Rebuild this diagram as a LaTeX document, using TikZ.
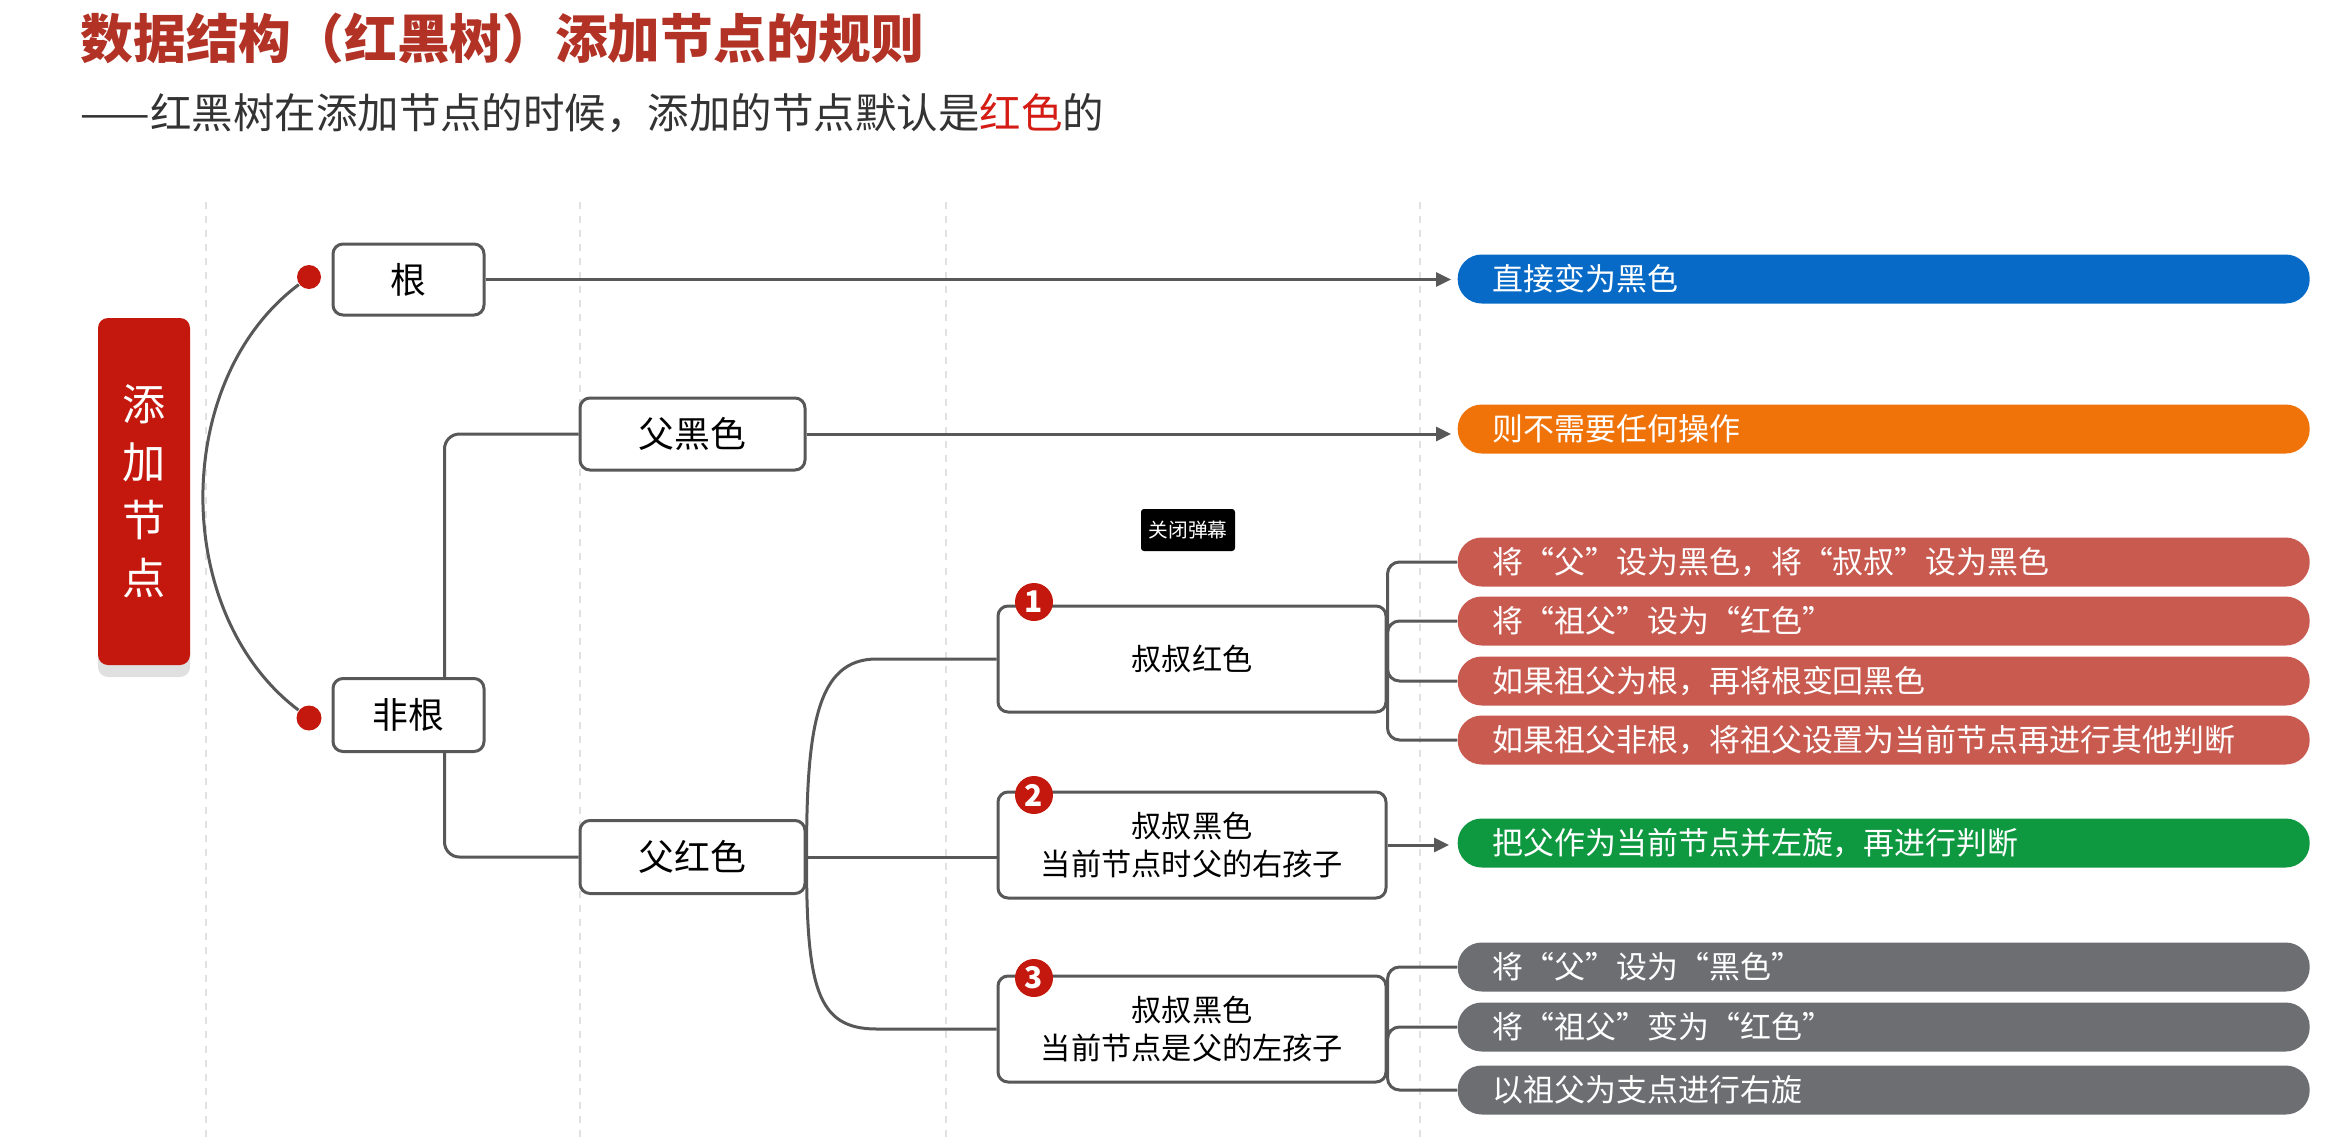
\documentclass[tikz,border=0pt]{standalone}
\usepackage{fontspec}
\setmainfont{Noto Sans CJK SC}
\usetikzlibrary{arrows.meta}

\definecolor{titlered}{RGB}{178,50,38}
\definecolor{subred}{RGB}{212,28,20}
\definecolor{boxred}{RGB}{196,24,14}
\definecolor{pillblue}{RGB}{6,106,198}
\definecolor{pillorange}{RGB}{240,115,10}
\definecolor{pillred}{RGB}{200,90,80}
\definecolor{pillgreen}{RGB}{14,152,64}
\definecolor{pillgray}{RGB}{108,110,114}
\definecolor{linegray}{RGB}{88,88,88}
\definecolor{gridgray}{RGB}{225,225,225}

\begin{document}
\begin{tikzpicture}[x=0.1mm,y=-0.1mm]

  \fill[white] (0,0) rectangle (2333,1139);
  \useasboundingbox (0,0) rectangle (2333,1139);

  % heading
  \node[anchor=west,inner sep=0pt,text=titlered,font=\fontsize{15}{18}\selectfont\bfseries] (title) at (80,38) {数据结构（红黑树）添加节点的规则};
  \node[anchor=west,inner sep=0pt,text=black!80,font=\fontsize{11.8}{14}\selectfont] (sub) at (80,113) {——红黑树在添加节点的时候，添加的节点默认是\textcolor{subred}{红色}的};

  % guide lines
  \foreach \x in {206,580,946,1420}
    \draw[gridgray,dash pattern=on 2pt off 2pt,line width=0.4pt] (\x,202) -- (\x,1139);

  % main topic
  \fill[black!12,rounded corners=1mm] (98,330) rectangle (190,677);
  \node[fill=boxred,rounded corners=1mm,minimum width=9.2mm,minimum height=34.7mm,align=center,text=white,font=\fontsize{12.3}{16.5}\selectfont] (add) at (144,491.5) {添\\加\\节\\点};

  \begin{scope}[every node/.style={draw=linegray,line width=0.3mm,rounded corners=1mm,fill=white,font=\fontsize{10.2}{12}\selectfont}]
    \node[minimum width=15.1mm,minimum height=7.1mm] (root) at (408.5,279.5) {根};
    \node[minimum width=15.1mm,minimum height=7.3mm] (nonroot) at (408.5,715) {非根};
    \node[minimum width=22.5mm,minimum height=7.2mm] (fblack) at (692.5,434) {父黑色};
    \node[minimum width=22.5mm,minimum height=7.3mm] (fred) at (692.5,857) {父红色};
  \end{scope}

  \begin{scope}[every node/.style={draw=linegray,line width=0.3mm,rounded corners=1mm,fill=white,minimum width=38.8mm,minimum height=10.6mm,align=center,font=\fontsize{8.6}{10.6}\selectfont}]
    \node (case1) at (1192,659) {叔叔红色};
    \node (case2) at (1192,845) {叔叔黑色\\当前节点时父的右孩子};
    \node (case3) at (1192,1029) {叔叔黑色\\当前节点是父的左孩子};
  \end{scope}

  \begin{scope}[every node/.style={anchor=west,minimum height=4.9mm,rounded corners=2.4mm,text width=78.2mm,inner xsep=3.5mm,inner ysep=0pt,align=left,text=white,font=\fontsize{8.8}{10}\selectfont}]
    \node[fill=pillblue] (black) at (1457,279) {直接变为黑色};
    \node[fill=pillorange] (noop) at (1457,429) {则不需要任何操作};
    \node[fill=pillred] (r1) at (1457,562) {将“父”设为黑色，将“叔叔”设为黑色};
    \node[fill=pillred] (r2) at (1457,621) {将“祖父”设为“红色”};
    \node[fill=pillred] (r3) at (1457,681) {如果祖父为根，再将根变回黑色};
    \node[fill=pillred] (r4) at (1457,740) {如果祖父非根，将祖父设置为当前节点再进行其他判断};
    \node[fill=pillgreen] (rotl) at (1457,843) {把父作为当前节点并左旋，再进行判断};
    \node[fill=pillgray] (g1) at (1457,967) {将“父”设为“黑色”};
    \node[fill=pillgray] (g2) at (1457,1027) {将“祖父”变为“红色”};
    \node[fill=pillgray] (g3) at (1457,1090) {以祖父为支点进行右旋};
  \end{scope}

  \begin{scope}[every node/.style={circle,fill=boxred,inner sep=0pt}]
    \node[minimum size=2.4mm] (d1) at (309,277) {};
    \node[minimum size=2.5mm] (d2) at (309,718) {};
  \end{scope}

  \begin{scope}[linegray,line width=0.3mm]
    \draw (d1) .. controls (171,380) and (171,614) .. (d2);
    \draw[-{Triangle[length=1.5mm,width=1.4mm]},shorten >=0.6mm] (root.east) -- (root.east -| black.west);
    \draw[-{Triangle[length=1.5mm,width=1.4mm]},shorten >=0.6mm] (fblack.east) -- (fblack.east -| noop.west);
    \draw[rounded corners=1.5mm] (nonroot.north east) ++(-41,0) |- (fblack.west);
    \draw[rounded corners=1.5mm] (nonroot.south east) ++(-41,0) |- (fred.west);
    \draw (fred.east) .. controls +(0,-130) and +(-60,0) .. ([xshift=-12mm]case1.west) -- (case1.west);
    \draw (fred.east) -- (fred.east -| case2.west);
    \draw (fred.east) .. controls +(0,130) and +(-60,0) .. ([xshift=-12mm]case3.west) -- (case3.west);
    \foreach \p in {r1,r2,r3,r4}
      \draw[rounded corners=1.2mm] (case1.east) |- (\p.west);
    \draw[-{Triangle[length=1.5mm,width=1.4mm]},shorten >=0.8mm] (case2.east) -- (case2.east -| rotl.west);
    \foreach \p in {g1,g2,g3}
      \draw[rounded corners=1.2mm] (case3.east) |- (\p.west);
  \end{scope}

  \begin{scope}[every node/.style={circle,fill=boxred,text=white,minimum size=3.8mm,inner sep=0pt,font=\fontsize{8.5}{9}\selectfont\bfseries}]
    \node (n1) at (1034,602) {1};
    \node (n2) at (1034,795) {2};
    \node (n3) at (1034,978) {3};
  \end{scope}

  \node[fill=black,text=white,minimum width=9.4mm,minimum height=4.2mm,inner sep=0pt,rounded corners=0.3mm,font=\fontsize{5.6}{6}\selectfont] (danmaku) at (1188,530) {关闭弹幕};

\end{tikzpicture}
\end{document}
